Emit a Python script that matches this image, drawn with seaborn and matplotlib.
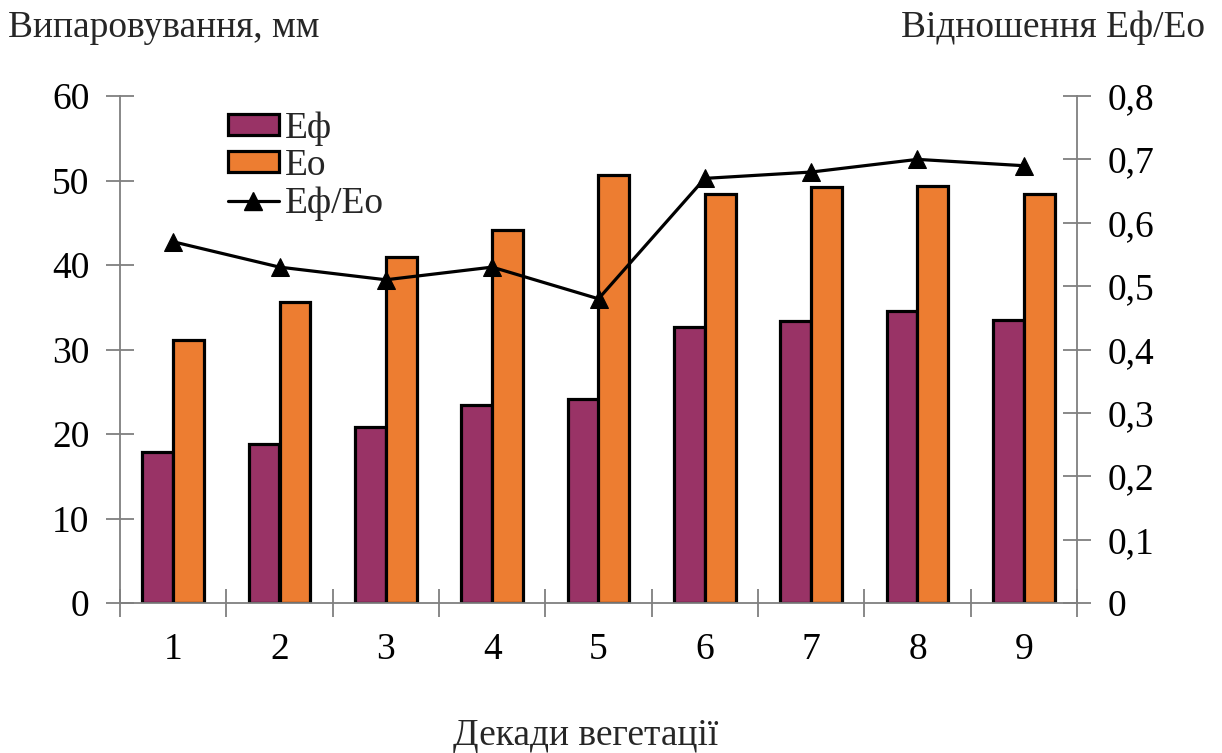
import numpy as np
import pandas as pd
import matplotlib
matplotlib.use("Agg")
import matplotlib.pyplot as plt
from matplotlib.ticker import FixedLocator, FuncFormatter
from matplotlib.patches import Patch
from matplotlib.lines import Line2D
import seaborn as sns

# Decades of vegetation period
decades = ["1", "2", "3", "4", "5", "6", "7", "8", "9"]
# Actual evapotranspiration, mm
e_f = [17.9, 18.8, 20.8, 23.4, 24.1, 32.7, 33.4, 34.6, 33.5]
# Potential evaporation, mm
e_o = [31.1, 35.6, 40.9, 44.1, 50.6, 48.4, 49.2, 49.3, 48.4]
# Ratio Еф/Ео
ratio = [0.57, 0.53, 0.51, 0.53, 0.48, 0.67, 0.68, 0.70, 0.69]

series_names = ["Еф", "Ео"]
colors = {"Еф": "#993366", "Ео": "#ED7D31"}

sns.set_theme(style="white")
plt.rcParams["font.family"] = ["Liberation Serif", "DejaVu Serif"]

df = pd.DataFrame({
    "decade": decades * 2,
    "value": e_f + e_o,
    "series": ["Еф"] * len(decades) + ["Ео"] * len(decades),
})

fig = plt.figure(figsize=(12.22, 7.53), dpi=100)
ax = fig.add_axes([120 / 1222, 150 / 753, 957 / 1222, 507 / 753])

sns.barplot(data=df, x="decade", y="value", hue="series", order=decades,
            hue_order=series_names, palette=colors, width=0.58, gap=0,
            edgecolor="black", linewidth=2.3, saturation=1, ax=ax,
            legend=False)

ax.set_xlim(-0.5, len(decades) - 0.5)
ax.set_ylim(0, 60)
ax.set_yticks(np.arange(0, 61, 10))
ax.set_xlabel("")
ax.set_ylabel("")

# Ratio on the secondary axis
ax2 = ax.twinx()
x_pos = np.arange(len(decades))
sns.lineplot(x=x_pos, y=ratio, color="black", linewidth=2.3, marker="^",
             markersize=13, markeredgecolor="black", ax=ax2, legend=False)
ax2.set_ylim(0, 0.8)
ax2.set_yticks(np.arange(0, 0.81, 0.1))
ax2.yaxis.set_major_formatter(FuncFormatter(
    lambda v, p: "0" if abs(v) < 1e-9 else f"{v:.1f}".replace(".", ",")))

# x: tick marks at category boundaries, labels at category centres
ax.xaxis.set_major_locator(FixedLocator(np.arange(-0.5, len(decades), 1.0)))
ax.xaxis.set_major_formatter(FuncFormatter(lambda v, p: ""))
ax.xaxis.set_minor_locator(FixedLocator(x_pos))
ax.xaxis.set_minor_formatter(FuncFormatter(lambda v, p: decades[int(round(v))]))

axis_grey = "#7f7f7f"
for a in (ax, ax2):
    for s in a.spines.values():
        s.set_color(axis_grey)
        s.set_linewidth(1.3)
    a.spines["top"].set_visible(False)

ax.spines["right"].set_visible(False)
ax2.spines["left"].set_visible(False)
ax2.spines["bottom"].set_visible(False)

ax.tick_params(axis="y", which="major", direction="inout", length=20,
               width=1.3, color=axis_grey, labelsize=27, pad=12,
               left=True, labelcolor="black")
ax.tick_params(axis="x", which="major", direction="inout", length=20,
               width=1.3, color=axis_grey, bottom=True)
ax.tick_params(axis="x", which="minor", length=0, labelsize=27, pad=21,
               labelcolor="black")
ax2.tick_params(axis="y", which="major", direction="inout", length=20,
                width=1.3, color=axis_grey, labelsize=27, pad=12,
                right=True, labelcolor="black")

ax2.set_zorder(ax.get_zorder() + 1)
ax2.patch.set_visible(False)

# Axis titles
fig.text(8 / 1222, 1 - 28 / 753, "Випаровування, мм", fontsize=27,
         ha="left", va="center")
fig.text(1205 / 1222, 1 - 28 / 753, "Відношення Еф/Ео", fontsize=27,
         ha="right", va="center")
fig.text(586 / 1222, 1 - 736 / 753, "Декади вегетації", fontsize=27,
         ha="center", va="center")

handles = [
    Patch(facecolor=colors["Еф"], edgecolor="black", linewidth=2.3),
    Patch(facecolor=colors["Ео"], edgecolor="black", linewidth=2.3),
    Line2D([0], [0], color="black", linewidth=2.3, marker="^",
           markersize=13),
]
ax2.legend(handles, ["Еф", "Ео", "Еф/Ео"], loc="upper left",
           bbox_to_anchor=(0.085, 1.022), frameon=False, fontsize=27,
           handlelength=1.36, handleheight=0.48, handletextpad=0.16,
           labelspacing=0.08, borderaxespad=0.3)

fig.savefig("out.png", dpi=100)
